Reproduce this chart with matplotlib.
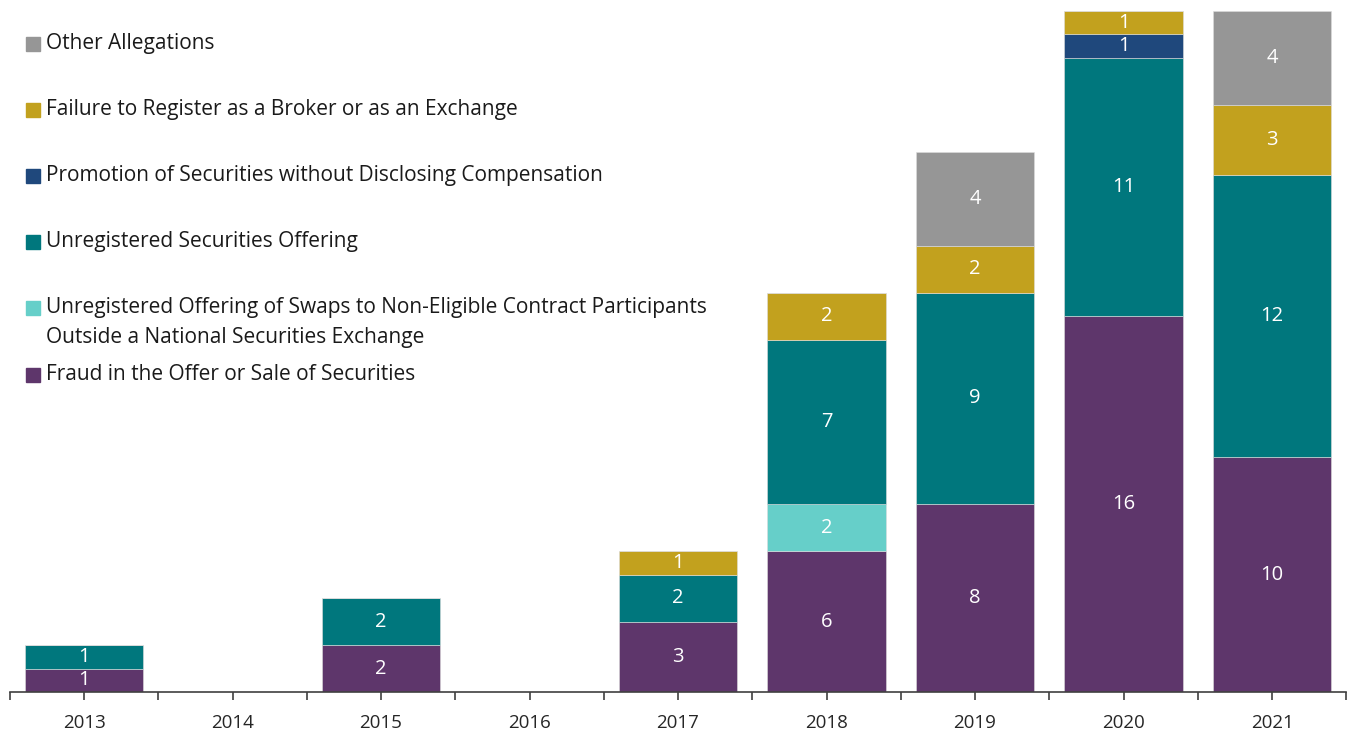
import matplotlib.pyplot as plt
from matplotlib.patches import Rectangle
import numpy as np

plt.rcParams['font.family'] = ['Open Sans', 'DejaVu Sans']

years = ["2013", "2014", "2015", "2016", "2017", "2018", "2019", "2020", "2021"]

fraud = [1, 0, 2, 0, 3, 6, 8, 16, 10]
swaps = [0, 0, 0, 0, 0, 2, 0, 0, 0]
unregistered = [1, 0, 2, 0, 2, 7, 9, 11, 12]
promotion = [0, 0, 0, 0, 0, 0, 0, 1, 0]
failure = [0, 0, 0, 0, 1, 2, 2, 1, 3]
other = [0, 0, 0, 0, 0, 0, 4, 0, 4]

series = [
    ("Fraud in the Offer or Sale of Securities", fraud, "#5e366b"),
    ("Unregistered Offering of Swaps to Non-Eligible Contract Participants\nOutside a National Securities Exchange", swaps, "#66cfc9"),
    ("Unregistered Securities Offering", unregistered, "#00777d"),
    ("Promotion of Securities without Disclosing Compensation", promotion, "#1f487c"),
    ("Failure to Register as a Broker or as an Exchange", failure, "#c2a11e"),
    ("Other Allegations", other, "#969696"),
]

fig = plt.figure(figsize=(13.5, 7.32), dpi=100)
ax = fig.add_axes([9.75 / 1350, 1 - 692 / 732, 1336.5 / 1350, 681 / 732])

x = np.arange(len(years))
bottom = np.zeros(len(years))
for name, vals, col in series:
    vals = np.array(vals, dtype=float)
    bars = ax.bar(x, vals, 0.8, bottom=bottom, color=col, edgecolor="#dddddd", linewidth=0.4)
    labels = [str(int(v)) if v > 0 else "" for v in vals]
    ax.bar_label(bars, labels=labels, label_type="center", color="white", fontsize=14.5)
    bottom += vals

ax.set_xlim(-0.5, len(years) - 0.5)
ax.set_ylim(0, 29)
ax.set_yticks([])
for s in ["left", "right", "top"]:
    ax.spines[s].set_visible(False)
ax.spines["bottom"].set_color("#404040")
ax.spines["bottom"].set_linewidth(1.2)
ax.set_xticks(x)
ax.set_xticklabels(years, fontsize=13.5, color="#262626")
ax.set_xticks(np.arange(-0.5, len(years)), minor=True)
ax.tick_params(axis="x", which="both", length=6, width=1.2, color="#404040", pad=10)

# legend, drawn top to bottom
legend_rows = [
    ("Other Allegations", "#969696", 44),
    ("Failure to Register as a Broker or as an Exchange", "#c2a11e", 110),
    ("Promotion of Securities without Disclosing Compensation", "#1f487c", 176),
    ("Unregistered Securities Offering", "#00777d", 242),
    ("Unregistered Offering of Swaps to Non-Eligible Contract Participants", "#66cfc9", 308),
    ("Fraud in the Offer or Sale of Securities", "#5e366b", 375),
]
for txt, col, ypix in legend_rows:
    fig.patches.append(Rectangle((26 / 1350, 1 - (ypix + 7) / 732), 14 / 1350, 14 / 732,
                                 transform=fig.transFigure, color=col, figure=fig))
    fig.text(46 / 1350, 1 - ypix / 732, txt, fontsize=15, color="#1a1a1a", va="center")
fig.text(46 / 1350, 1 - 338 / 732, "Outside a National Securities Exchange",
         fontsize=15, color="#1a1a1a", va="center")

fig.savefig("out.png", dpi=100)
